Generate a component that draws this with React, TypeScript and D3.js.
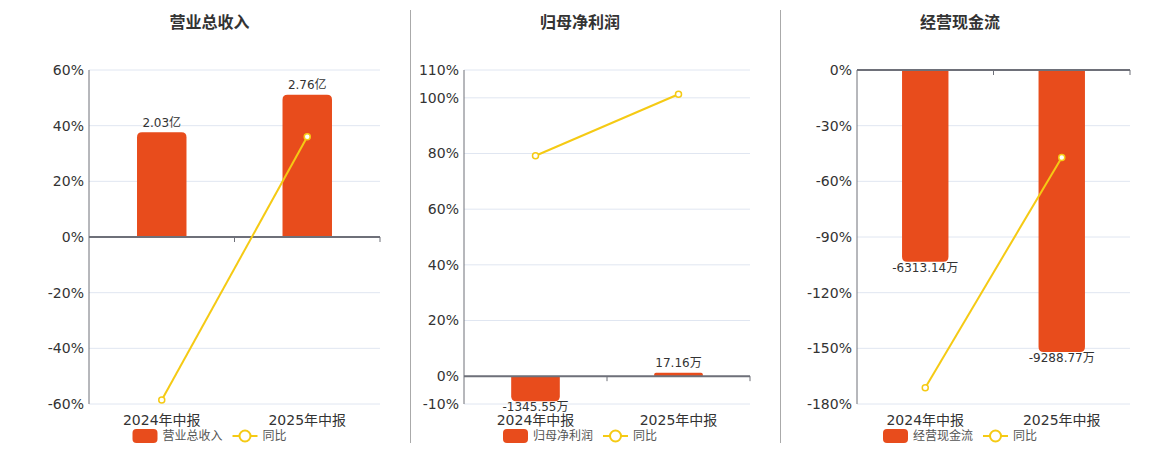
import { scaleBand, scaleLinear, line } from "d3";

const categories = ["2024年中报", "2025年中报"];

const revenue = [2.03, 2.76];
const revenueYoy = [-58.6, 36.0];
const revenueTicks = [-60, -40, -20, 0, 20, 40, 60];

const netProfit = [-1345.55, 17.16];
const netProfitYoy = [79.2, 101.3];
const netProfitTicks = [-10, 0, 20, 40, 60, 80, 100, 110];

const cashFlow = [-6313.14, -9288.77];
const cashFlowYoy = [-171.2, -47.1];
const cashFlowTicks = [-180, -150, -120, -90, -60, -30, 0];

const panels = [
  { title: "营业总收入", bars: revenue, yoy: revenueYoy, ticks: revenueTicks, barDomain: [-3.24, 3.24], unit: "亿" },
  { title: "归母净利润", bars: netProfit, yoy: netProfitYoy, ticks: netProfitTicks, barDomain: [-1500, 16500], unit: "万" },
  { title: "经营现金流", bars: cashFlow, yoy: cashFlowYoy, ticks: cashFlowTicks, barDomain: [-11000, 0], unit: "万" },
];

// layout of the three panels
const layout = [
  { left: 89, right: 380, center: 209.5 },
  { left: 464, right: 750, center: 580 },
  { left: 857, right: 1130, center: 960 },
];

const TOP = 70;
const BOTTOM = 404;
const BAR = "#E84C1C";
const LINE = "#F5CA14";
const FONT = '"DejaVu Sans", "Noto Sans CJK SC", sans-serif';

function barPath(x: number, w: number, y0: number, y1: number, r: number) {
  const h = Math.abs(y1 - y0);
  r = Math.min(r, h / 2, w / 2);
  if (y1 <= y0) {
    return `M${x},${y0}V${y1 + r}Q${x},${y1} ${x + r},${y1}H${x + w - r}Q${x + w},${y1} ${x + w},${y1 + r}V${y0}Z`;
  }
  return `M${x},${y0}V${y1 - r}Q${x},${y1} ${x + r},${y1}H${x + w - r}Q${x + w},${y1} ${x + w},${y1 - r}V${y0}Z`;
}

function Panel({ p, l }: { p: (typeof panels)[number]; l: (typeof layout)[number] }) {
  const ticks = p.ticks;
  const y = scaleLinear([ticks[0], ticks[ticks.length - 1]], [BOTTOM, TOP]);
  const yb = scaleLinear(p.barDomain, [BOTTOM, TOP]);
  const x = scaleBand(categories, [l.left, l.right]);
  const bw = x.bandwidth() * 0.34;
  const zero = y(0);
  const cx = (c: string) => (x(c) ?? 0) + x.bandwidth() / 2;
  const path = line<number>((_, i) => cx(categories[i]), (d) => y(d))(p.yoy);

  const t1 = p.title.length * 12;
  const total = 25 + 5 + t1 + 10 + 25 + 5 + 24;
  const lx = l.center - total / 2;
  const ly = 436;

  return (
    <g fontFamily={FONT}>
      <text x={l.center} y={28} textAnchor="middle" fontSize={16} fontWeight="bold" fill="#333">
        {p.title}
      </text>
      {ticks.map((t) => (
        <g key={t}>
          <line x1={l.left} x2={l.right} y1={y(t)} y2={y(t)} stroke="#E0E6F1" />
          <text x={l.left - 5} y={y(t)} dy="0.35em" textAnchor="end" fontSize={14} fill="#333">
            {t}%
          </text>
        </g>
      ))}
      <line x1={l.left} x2={l.left} y1={TOP} y2={BOTTOM} stroke="#6E7079" />
      {p.bars.map((v, i) => {
        const c = categories[i];
        let yv = yb(v);
        if (Math.abs(yv - zero) < 3.5) yv = zero + (v >= 0 ? -3.5 : 3.5);
        const label = `${v.toFixed(2)}${p.unit}`;
        return (
          <g key={c}>
            <path d={barPath(cx(c) - bw / 2, bw, zero, yv, 5)} fill={BAR} />
            <text
              x={cx(c)}
              y={v >= 0 ? yv - 10 : yv + 6}
              dy="0.35em"
              textAnchor="middle"
              fontSize={12}
              fill="#333"
            >
              {label}
            </text>
          </g>
        );
      })}
      <line x1={l.left} x2={l.right} y1={zero} y2={zero} stroke="#6E7079" strokeWidth={2} />
      {categories.map((c) => (
        <line key={c} x1={(x(c) ?? 0) + x.bandwidth()} x2={(x(c) ?? 0) + x.bandwidth()} y1={zero} y2={zero + 5} stroke="#6E7079" />
      ))}
      {path && <path d={path} fill="none" stroke={LINE} strokeWidth={2} />}
      {p.yoy.map((v, i) => (
        <circle key={i} cx={cx(categories[i])} cy={y(v)} r={3} fill="#fff" stroke={LINE} strokeWidth={1.5} />
      ))}
      {categories.map((c) => (
        <text key={c} x={cx(c)} y={420} dy="0.35em" textAnchor="middle" fontSize={14} fill="#333">
          {c}
        </text>
      ))}
      <rect x={lx} y={ly - 7} width={25} height={14} rx={4} fill={BAR} />
      <text x={lx + 30} y={ly} dy="0.35em" fontSize={12} fill="#555">
        {p.title}
      </text>
      <line x1={lx + 40 + t1} x2={lx + 65 + t1} y1={ly} y2={ly} stroke={LINE} strokeWidth={2} />
      <circle cx={lx + 52.5 + t1} cy={ly} r={5.5} fill="#fff" stroke={LINE} strokeWidth={2} />
      <text x={lx + 70 + t1} y={ly} dy="0.35em" fontSize={12} fill="#555">
        同比
      </text>
    </g>
  );
}

export default function App() {
  return (
    <svg width={1160} height={450} style={{ position: "absolute", left: 0, top: 0, background: "#fff" }}>
      {panels.map((p, i) => (
        <Panel key={p.title} p={p} l={layout[i]} />
      ))}
      <line x1={410.5} x2={410.5} y1={10} y2={443} stroke="#AAA" />
      <line x1={780.5} x2={780.5} y1={10} y2={443} stroke="#AAA" />
    </svg>
  );
}
